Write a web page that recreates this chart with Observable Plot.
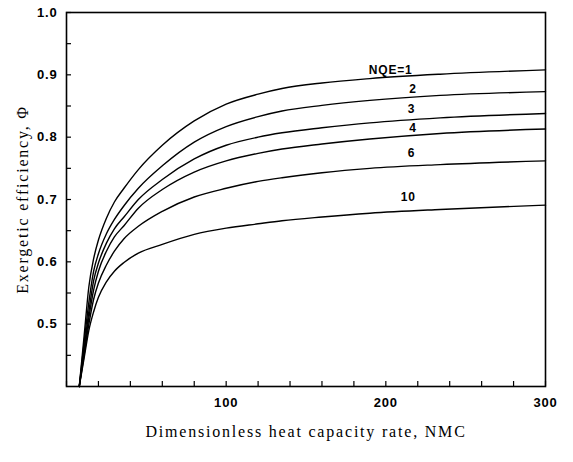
<!DOCTYPE html>
<html>
<head>
<meta charset="utf-8">
<script src="https://cdn.jsdelivr.net/npm/d3@7"></script>
<script src="https://cdn.jsdelivr.net/npm/@observablehq/plot@0.6"></script>
<style>
  html, body { margin: 0; padding: 0; background: #fff; }
  #chart svg { display: block; }
</style>
</head>
<body>
<div id="chart"></div>
<script>
// Shared NMC grid (x values)
const nmc = [8, 11, 14, 17, 20, 25, 30, 36, 45, 60, 80, 100, 120, 135, 160, 190, 234, 300];
// Exergetic efficiency for each NQE
const nqe1  = [0.40, 0.48, 0.56, 0.605, 0.635, 0.670, 0.696, 0.718, 0.748, 0.787, 0.826, 0.853, 0.869, 0.878, 0.887, 0.894, 0.901, 0.908];
const nqe2  = [0.40, 0.47, 0.535, 0.585, 0.613, 0.645, 0.668, 0.690, 0.718, 0.754, 0.792, 0.817, 0.833, 0.842, 0.851, 0.859, 0.867, 0.873];
const nqe3  = [0.40, 0.46, 0.52, 0.57, 0.598, 0.630, 0.653, 0.672, 0.700, 0.732, 0.765, 0.787, 0.800, 0.807, 0.815, 0.823, 0.831, 0.838];
const nqe4  = [0.40, 0.455, 0.51, 0.555, 0.585, 0.617, 0.640, 0.658, 0.686, 0.716, 0.744, 0.762, 0.774, 0.781, 0.789, 0.797, 0.806, 0.813];
const nqe6  = [0.40, 0.45, 0.50, 0.54, 0.566, 0.595, 0.617, 0.637, 0.657, 0.681, 0.704, 0.718, 0.729, 0.735, 0.743, 0.750, 0.756, 0.762];
const nqe10 = [0.40, 0.445, 0.49, 0.52, 0.543, 0.568, 0.585, 0.599, 0.614, 0.628, 0.644, 0.654, 0.661, 0.666, 0.672, 0.678, 0.684, 0.691];

const seriesNames = ["1", "2", "3", "4", "6", "10"];
const seriesValues = [nqe1, nqe2, nqe3, nqe4, nqe6, nqe10];

// Curve labels
const labelText = ["NQE=1", "2", "3", "4", "6", "10"];
const labelX = [203, 217, 216, 217, 216, 214];
const labelY = [0.907, 0.877, 0.845, 0.815, 0.775, 0.703];

// Ticks
const xMinorTicks = [0, 20, 40, 60, 80, 100, 120, 140, 160, 180, 200, 220, 240, 260, 280, 300];
const xLabelTicks = [100, 200, 300];
const yMinorTicks = [0.45, 0.5, 0.55, 0.6, 0.65, 0.7, 0.75, 0.8, 0.85, 0.9, 0.95, 1.0];
const yLabelTicks = [0.5, 0.6, 0.7, 0.8, 0.9, 1.0];

const xTitle = "Dimensionless heat capacity rate, NMC";
const yTitle = "Exergetic efficiency, \u03A6";

const rows = [];
seriesNames.forEach((name, i) => {
  nmc.forEach((x, j) => rows.push({series: name, x, y: seriesValues[i][j]}));
});
const labels = labelText.map((t, i) => ({t, x: labelX[i], y: labelY[i]}));

const sans = "Liberation Sans, Arial, sans-serif";
const serif = "Liberation Serif, Times New Roman, serif";

const chart = Plot.plot({
  width: 573,
  height: 462,
  marginLeft: 66,
  marginRight: 28,
  marginTop: 12,
  marginBottom: 76,
  x: {domain: [0, 300]},
  y: {domain: [0.4, 1.0]},
  style: {background: "#fff", color: "#000"},
  marks: [
    Plot.axisX({ticks: xMinorTicks, tickSize: -5, tickFormat: () => "", label: null, strokeWidth: 1.2}),
    Plot.axisX({ticks: xLabelTicks, tickSize: 0, tickPadding: 11, tickFormat: d3.format("d"), label: null,
      fontSize: 13, fontWeight: "bold", fontFamily: sans}),
    Plot.axisY({ticks: yMinorTicks, tickSize: -5, tickFormat: () => "", label: null, strokeWidth: 1.2}),
    Plot.axisY({ticks: yLabelTicks, tickSize: 0, tickPadding: 9, tickFormat: d3.format(".1f"), label: null,
      fontSize: 13, fontWeight: "bold", fontFamily: sans}),
    Plot.frame({stroke: "#000", strokeWidth: 1.6}),
    Plot.line(rows, {x: "x", y: "y", z: "series", curve: "monotone-x", stroke: "#000", strokeWidth: 1.4}),
    Plot.text(labels, {x: "x", y: "y", text: "t", fontSize: 12, fontWeight: "bold",
      fontFamily: sans, fill: "#000"}),
    Plot.text([xTitle], {frameAnchor: "bottom", dy: 50, lineAnchor: "bottom", textAnchor: "middle", text: d => d,
      fontSize: 16, fontFamily: serif, fill: "#000"}),
    Plot.text([yTitle], {frameAnchor: "left", dx: -44, rotate: -90, textAnchor: "middle", text: d => d,
      fontSize: 16, fontFamily: serif, fill: "#000"})
  ]
});
// letter spacing to match the wide spacing of the original typesetting
d3.select(chart).selectAll("text").each(function() {
  const t = this.textContent;
  if (t === xTitle || t === yTitle) this.style.letterSpacing = "1.8px";
  else if (labelText.includes(t) || xLabelTicks.map(String).includes(t) || t.startsWith("0.") || t === "1.0") this.style.letterSpacing = "0.8px";
});
document.getElementById("chart").appendChild(chart);
</script>
</body>
</html>
